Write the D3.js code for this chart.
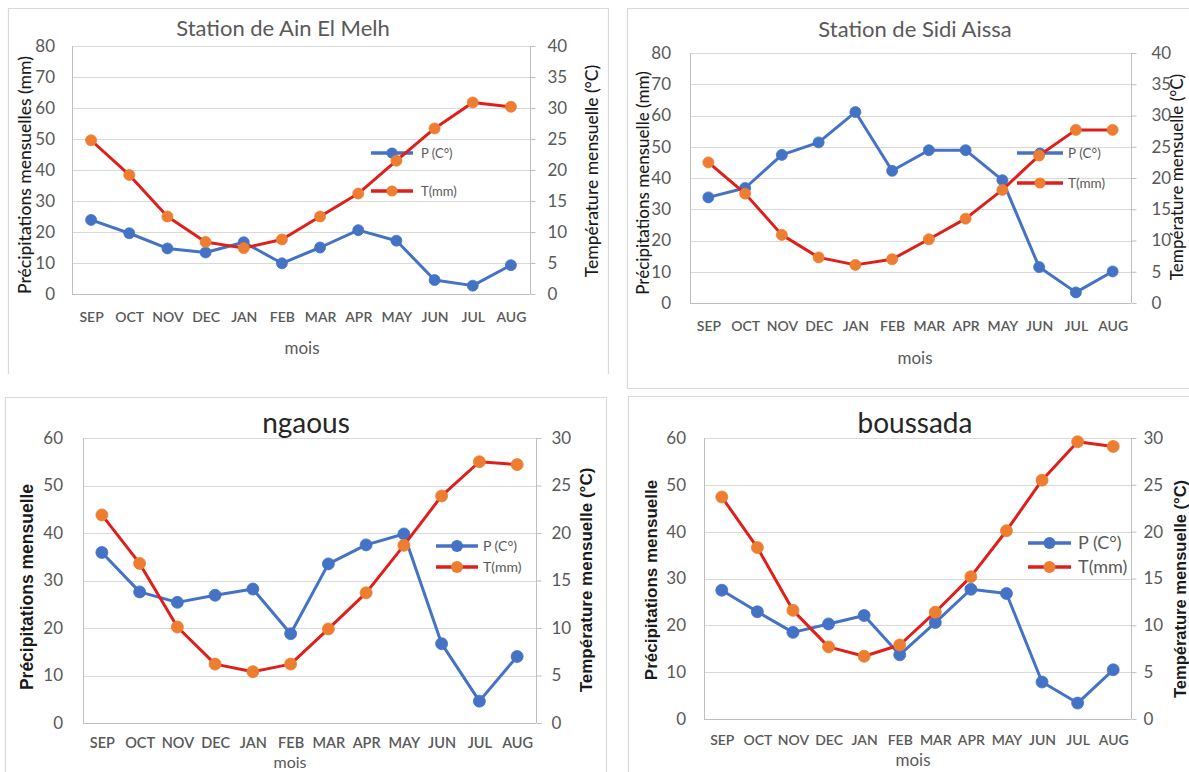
<!DOCTYPE html>
<html>
<head>
<meta charset="utf-8">
<script src="https://cdn.jsdelivr.net/npm/d3@7"></script>
<style>
  html, body { margin: 0; padding: 0; background: #ffffff; }
  svg { display: block; }
</style>
</head>
<body>
<script>
// Monthly precipitation (mm, left axis) and temperature (°C, right axis) per station
const months = ["SEP", "OCT", "NOV", "DEC", "JAN", "FEB", "MAR", "APR", "MAY", "JUN", "JUL", "AUG"];

const ainElMelhP = [23.9, 19.6, 14.7, 13.4, 16.7, 9.9, 15.0, 20.6, 17.2, 4.5, 2.7, 9.3];
const ainElMelhT = [24.8, 19.2, 12.5, 8.4, 7.4, 8.8, 12.5, 16.2, 21.5, 26.7, 30.9, 30.2];

const sidiAissaP = [33.8, 36.8, 47.4, 51.4, 61.1, 42.3, 48.9, 48.9, 39.3, 11.5, 3.4, 10.1];
const sidiAissaT = [22.5, 17.5, 10.9, 7.3, 6.1, 7.0, 10.2, 13.5, 18.1, 23.6, 27.7, 27.7];

const ngaousP = [35.9, 27.6, 25.4, 26.9, 28.2, 18.8, 33.5, 37.5, 39.8, 16.7, 4.6, 14.0];
const ngaousT = [21.9, 16.8, 10.1, 6.2, 5.4, 6.2, 9.9, 13.7, 18.7, 23.9, 27.5, 27.2];

const boussadaP = [27.5, 22.9, 18.5, 20.3, 22.1, 13.7, 20.6, 27.7, 26.8, 7.9, 3.4, 10.5];
const boussadaT = [23.7, 18.3, 11.6, 7.7, 6.7, 7.9, 11.4, 15.2, 20.1, 25.5, 29.6, 29.1];

const precipTicks80 = [0, 10, 20, 30, 40, 50, 60, 70, 80];
const tempTicks40 = [0, 5, 10, 15, 20, 25, 30, 35, 40];
const precipTicks60 = [0, 10, 20, 30, 40, 50, 60];
const tempTicks30 = [0, 5, 10, 15, 20, 25, 30];

const legendP = "P (C°)";
const legendT = "T(mm)";
const xTitle = "mois";

const BLUE = "#4472C4";
const RED = "#DE1F1A";
const ORANGE = "#ED7D31";
const GRID = "#d9d9d9";
const AXIS = "#bfbfbf";
const TICK_TXT = "#595959";
const CALIBRI = "Lato, 'Open Sans', sans-serif";
const ARIAL = "'Liberation Sans', Arial, sans-serif";

const W = 1189, H = 772;
const svg = d3.select("body").append("svg").attr("width", W).attr("height", H);

const panels = [
  {
    title: "Station de Ain El Melh", titleX: 283, titleY: 28, titleSize: 22, titleColor: "#595959", titleFont: CALIBRI,
    frame: { x0: 8, y0: 8, x1: 608, y1: 374, bottom: false },
    left: 72, right: 530, top: 46, bottom: 294,
    p: ainElMelhP, t: ainElMelhT, pTicks: precipTicks80, tTicks: tempTicks40,
    tickSize: 17, lPad: 17, rPad: 12, xPad: 18, xSize: 14,
    yTitle: "Précipitations mensuelles (mm)", yTitleX: 25, yTitleY: 175, yTitleSize: 17.5, yTitleFont: CALIBRI,
    rTitle: "Température mensuelle (°C)", rTitleX: 592, rTitleY: 171, rTitleSize: 17.5, rTitleFont: CALIBRI,
    moisX: 302, moisY: 348, moisSize: 17,
    legX0: 371, legX1: 413, legTextX: 421, legY: [153, 191], legSize: 13, r: 5.5
  },
  {
    title: "Station de Sidi Aissa", titleX: 915, titleY: 29, titleSize: 22, titleColor: "#595959", titleFont: CALIBRI,
    frame: { x0: 627, y0: 8, x1: 1200, y1: 388, bottom: true },
    left: 690, right: 1131, top: 53, bottom: 303,
    p: sidiAissaP, t: sidiAissaT, pTicks: precipTicks80, tTicks: tempTicks40,
    tickSize: 17, lPad: 19, rPad: 15, xPad: 18, xSize: 14,
    yTitle: "Précipitations mensuelle (mm)", yTitleX: 643, yTitleY: 183, yTitleSize: 17, yTitleFont: CALIBRI,
    rTitle: "Température mensuelle (°C)", rTitleX: 1177, rTitleY: 177, rTitleSize: 17, rTitleFont: CALIBRI,
    moisX: 915, moisY: 358, moisSize: 17,
    legX0: 1017, legX1: 1063, legTextX: 1068, legY: [153, 183], legSize: 13.5, r: 5.5
  },
  {
    title: "ngaous", titleX: 306, titleY: 423, titleSize: 28, titleColor: "#262626", titleFont: CALIBRI,
    frame: { x0: 5, y0: 397, x1: 606, y1: 790, bottom: false },
    left: 83, right: 536, top: 438, bottom: 723,
    p: ngaousP, t: ngaousT, pTicks: precipTicks60, tTicks: tempTicks30,
    tickSize: 17, lPad: 20, rPad: 10, xPad: 15, xSize: 14.5,
    yTitle: "Précipitations mensuelle", yTitleX: 27, yTitleY: 587, yTitleSize: 17.5, yTitleFont: ARIAL,
    rTitle: "Température mensuelle (°C)", rTitleX: 586, rTitleY: 580, rTitleSize: 17, rTitleFont: ARIAL,
    moisX: 290, moisY: 762.5, moisSize: 16,
    legX0: 436, legX1: 478, legTextX: 483, legY: [546, 567], legSize: 14, r: 6
  },
  {
    title: "boussada", titleX: 915, titleY: 423, titleSize: 28, titleColor: "#262626", titleFont: CALIBRI,
    frame: { x0: 628, y0: 396, x1: 1200, y1: 790, bottom: false },
    left: 704, right: 1131, top: 438, bottom: 719,
    p: boussadaP, t: boussadaT, pTicks: precipTicks60, tTicks: tempTicks30,
    tickSize: 17, lPad: 18, rPad: 7, xPad: 16, xSize: 14,
    yTitle: "Précipitations mensuelle", yTitleX: 651, yTitleY: 580, yTitleSize: 17, yTitleFont: ARIAL,
    rTitle: "Température mensuelle (°C)", rTitleX: 1180, rTitleY: 589, rTitleSize: 16.5, rTitleFont: ARIAL,
    moisX: 913, moisY: 760, moisSize: 17,
    legX0: 1028, legX1: 1071, legTextX: 1078, legY: [543, 567], legSize: 18, r: 6
  }
];

function drawPanel(c) {
  const g = svg.append("g");

  // chart frame
  const f = c.frame;
  const framePath = f.bottom
    ? `M${f.x0 + 0.5},${f.y1 + 0.5}V${f.y0 + 0.5}H${f.x1 + 0.5}V${f.y1 + 0.5}Z`
    : `M${f.x0 + 0.5},${f.y1}V${f.y0 + 0.5}H${f.x1 + 0.5}V${f.y1}`;
  g.append("path").attr("d", framePath).attr("fill", "none").attr("stroke", GRID).attr("stroke-width", 1.2);

  const x = d3.scalePoint().domain(months).range([c.left, c.right]).padding(0.5);
  const yP = d3.scaleLinear().domain([0, d3.max(c.pTicks)]).range([c.bottom, c.top]);
  const yT = d3.scaleLinear().domain([0, d3.max(c.tTicks)]).range([c.bottom, c.top]);

  // horizontal gridlines
  g.append("g").selectAll("line").data(c.pTicks).join("line")
    .attr("x1", c.left).attr("x2", c.right)
    .attr("y1", d => Math.round(yP(d)) + 0.5).attr("y2", d => Math.round(yP(d)) + 0.5)
    .attr("stroke", d => d === 0 ? AXIS : GRID).attr("stroke-width", 1);

  // vertical axis lines
  [c.left, c.right].forEach(xx => {
    g.append("line").attr("x1", xx + 0.5).attr("x2", xx + 0.5)
      .attr("y1", c.top).attr("y2", c.bottom)
      .attr("stroke", AXIS).attr("stroke-width", 1);
  });

  // left axis (precipitation)
  const leftAxis = g.append("g").attr("transform", `translate(${c.left},0)`)
    .call(d3.axisLeft(yP).tickValues(c.pTicks).tickSize(0).tickPadding(c.lPad).tickFormat(d3.format("d")));
  leftAxis.select(".domain").remove();
  leftAxis.selectAll("text").attr("fill", TICK_TXT).attr("font-family", CALIBRI).attr("font-size", c.tickSize);

  // right axis (temperature)
  const rightAxis = g.append("g").attr("transform", `translate(${c.right + 0.5},0)`)
    .call(d3.axisRight(yT).tickValues(c.tTicks).tickSize(5).tickSizeOuter(0).tickPadding(c.rPad).tickFormat(d3.format("d")));
  rightAxis.select(".domain").remove();
  rightAxis.selectAll("line").attr("stroke", AXIS);
  rightAxis.selectAll("text").attr("fill", TICK_TXT).attr("font-family", CALIBRI).attr("font-size", c.tickSize);

  // month axis
  const bottomAxis = g.append("g").attr("transform", `translate(0,${c.bottom})`)
    .call(d3.axisBottom(x).tickSize(0).tickPadding(c.xPad));
  bottomAxis.select(".domain").remove();
  bottomAxis.selectAll("text").attr("fill", TICK_TXT).attr("font-family", CALIBRI)
    .attr("font-size", c.xSize).attr("font-weight", 600);

  // titles
  g.append("text").attr("x", c.titleX).attr("y", c.titleY).attr("dy", "0.35em")
    .attr("text-anchor", "middle").attr("font-family", c.titleFont).attr("font-size", c.titleSize)
    .attr("fill", c.titleColor).text(c.title);

  g.append("text").attr("transform", `translate(${c.yTitleX},${c.yTitleY}) rotate(-90)`)
    .attr("dy", "0.35em").attr("text-anchor", "middle")
    .attr("font-family", c.yTitleFont).attr("font-size", c.yTitleSize)
    .attr("font-weight", c.yTitleFont === ARIAL ? 600 : 500)
    .attr("fill", "#1a1a1a").text(c.yTitle);

  g.append("text").attr("transform", `translate(${c.rTitleX},${c.rTitleY}) rotate(-90)`)
    .attr("dy", "0.35em").attr("text-anchor", "middle")
    .attr("font-family", c.rTitleFont).attr("font-size", c.rTitleSize)
    .attr("font-weight", c.rTitleFont === ARIAL ? 600 : 500)
    .attr("fill", "#1a1a1a").text(c.rTitle);

  g.append("text").attr("x", c.moisX).attr("y", c.moisY).attr("dy", "0.35em")
    .attr("text-anchor", "middle").attr("font-family", CALIBRI).attr("font-size", c.moisSize)
    .attr("fill", TICK_TXT).text(xTitle);

  // series
  const series = [
    { values: c.p, y: yP, line: BLUE, marker: BLUE, label: legendP },
    { values: c.t, y: yT, line: RED, marker: ORANGE, label: legendT }
  ];

  series.forEach((s, i) => {
    const pts = months.map((m, k) => [x(m), s.y(s.values[k])]);
    g.append("path").attr("d", d3.line()(pts))
      .attr("fill", "none").attr("stroke", s.line).attr("stroke-width", 3)
      .attr("stroke-linejoin", "round").attr("stroke-linecap", "round");
    g.append("g").selectAll("circle").data(pts).join("circle")
      .attr("cx", d => d[0]).attr("cy", d => d[1]).attr("r", c.r)
      .attr("fill", s.marker).attr("stroke", s.marker).attr("stroke-width", 0.8);

    // legend entry
    const ly = c.legY[i];
    g.append("line").attr("x1", c.legX0).attr("x2", c.legX1).attr("y1", ly).attr("y2", ly)
      .attr("stroke", s.line).attr("stroke-width", 3.5);
    g.append("circle").attr("cx", (c.legX0 + c.legX1) / 2).attr("cy", ly).attr("r", c.r)
      .attr("fill", s.marker);
    g.append("text").attr("x", c.legTextX).attr("y", ly).attr("dy", "0.35em")
      .attr("font-family", CALIBRI).attr("font-size", c.legSize).attr("fill", TICK_TXT).text(s.label);
  });
}

panels.forEach(drawPanel);
</script>
</body>
</html>
